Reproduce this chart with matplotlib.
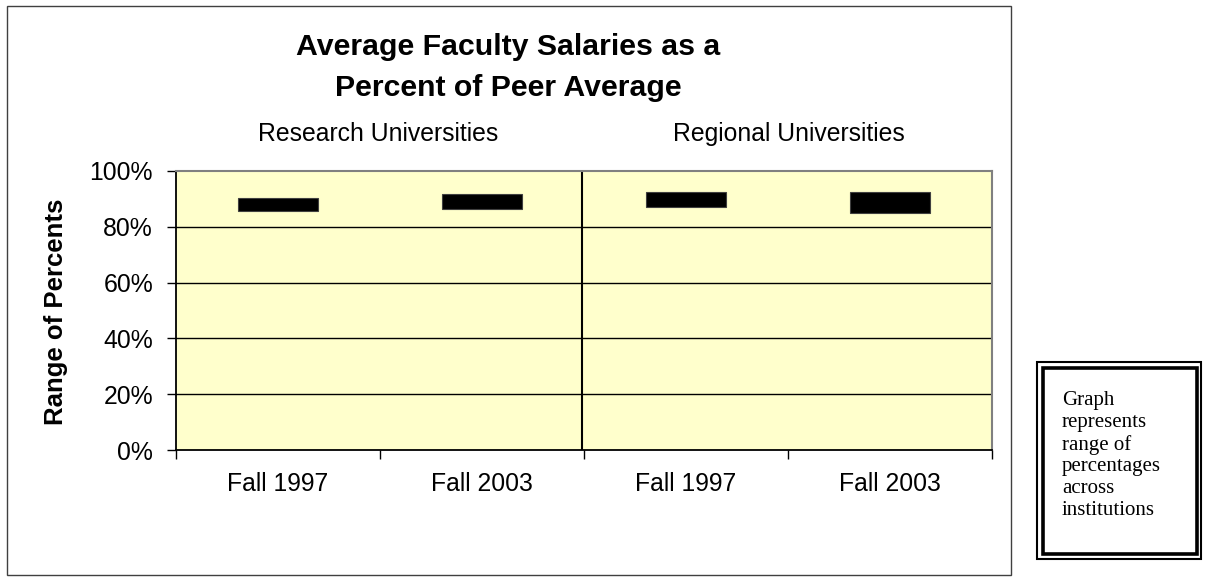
import matplotlib
matplotlib.use("Agg")
import matplotlib.pyplot as plt
from matplotlib.patches import Rectangle
from matplotlib.ticker import FixedLocator, FuncFormatter

# data
categories = ["Fall 1997", "Fall 2003", "Fall 1997", "Fall 2003"]
groups = ["Research Universities", "Regional Universities"]
range_low = [85.5, 86.3, 87.0, 84.8]
range_high = [90.3, 91.7, 92.5, 92.3]
y_ticks = [0, 20, 40, 60, 80, 100]
note_text = "Graph\nrepresents\nrange of\npercentages\nacross\ninstitutions"

W, H = 1206, 579
plt.rcParams["font.family"] = ["Liberation Sans", "DejaVu Sans"]


def fx(x):
    return x / W


def fy(y):
    return 1 - y / H


fig = plt.figure(figsize=(W / 100, H / 100), dpi=100)
ax = fig.add_axes([fx(176), fy(450), (992 - 176) / W, (450 - 171) / H])
ax.set_facecolor("#FFFFCC")

x = list(range(len(categories)))
heights = [h - l for l, h in zip(range_low, range_high)]
ax.bar(x, heights, bottom=range_low, width=0.39, color="black",
       edgecolor="#404040", linewidth=0.8, zorder=3)

ax.set_xlim(-0.5, len(categories) - 0.5)
ax.set_ylim(0, 100)

# horizontal gridlines and the group divider
for v in y_ticks[1:-1]:
    ax.axhline(v, color="black", linewidth=1, zorder=1)
ax.axvline(1.49, color="black", linewidth=1.5, zorder=2)

# axis ticks: boundaries as major ticks, labels on minor positions
ax.xaxis.set_major_locator(FixedLocator([i - 0.5 for i in range(len(categories) + 1)]))
ax.xaxis.set_major_formatter(FuncFormatter(lambda v, p: ""))
ax.xaxis.set_minor_locator(FixedLocator(x))
ax.set_xticklabels(categories, minor=True)
ax.tick_params(axis="x", which="major", direction="out", length=6.5, width=1)
ax.tick_params(axis="x", which="minor", length=0, pad=16, labelsize=17.8)

ax.set_yticks(y_ticks)
ax.yaxis.set_major_formatter(FuncFormatter(lambda v, p: f"{v:.0f}%"))
ax.tick_params(axis="y", direction="out", length=6.5, width=1, pad=10, labelsize=17.8)

for side in ["left", "bottom"]:
    ax.spines[side].set_color("black")
    ax.spines[side].set_linewidth(1.3)
for side in ["top", "right"]:
    ax.spines[side].set_color("#808080")
    ax.spines[side].set_linewidth(1.5)

# titles and labels
fig.text(fx(508), fy(47), "Average Faculty Salaries as a", ha="center", va="center",
         fontsize=21.8, fontweight="bold")
fig.text(fx(508), fy(88), "Percent of Peer Average", ha="center", va="center",
         fontsize=21.8, fontweight="bold")
fig.text(fx(378), fy(134), groups[0], ha="center", va="center", fontsize=17.8)
fig.text(fx(789), fy(134), groups[1], ha="center", va="center", fontsize=17.8)
fig.text(fx(56), fy(312), "Range of Percents", ha="center", va="center",
         rotation=90, fontsize=18.5, fontweight="bold")

# chart frame
fig.patches.append(Rectangle((fx(7), fy(575)), fx(1011 - 7), (575 - 6) / H,
                             transform=fig.transFigure, fill=False,
                             edgecolor="#404040", linewidth=1))

# note box with double border
fig.patches.append(Rectangle((fx(1037), fy(559)), fx(1201 - 1037), (559 - 362) / H,
                             transform=fig.transFigure, fill=False,
                             edgecolor="black", linewidth=1.5))
fig.patches.append(Rectangle((fx(1043), fy(553.5)), fx(1196.5 - 1043), (553.5 - 367.5) / H,
                             transform=fig.transFigure, fill=False,
                             edgecolor="black", linewidth=2.6))
fig.text(fx(1062), fy(391), note_text, ha="left", va="top", fontsize=15,
         linespacing=1.2, family=["Liberation Serif", "DejaVu Serif"])

plt.savefig("out.png", dpi=100)
